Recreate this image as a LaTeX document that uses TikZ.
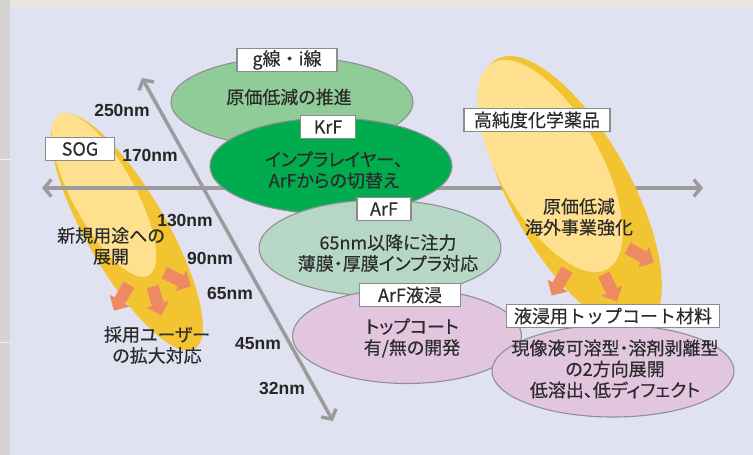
\documentclass[tikz,border=0pt]{standalone}
\usepackage{fontspec}
\setmainfont{Liberation Sans}
\newfontfamily\jp[RawFeature={+palt},FakeBold=0.35]{Noto Sans CJK JP}
\newfontfamily\jptag[FakeBold=0.35]{Noto Sans CJK JP}
\newfontfamily\nmfont{Liberation Sans}
\usetikzlibrary{shapes.geometric,shapes.arrows,arrows.meta}
\definecolor{panel}{HTML}{E1E2F1}
\definecolor{topstrip}{HTML}{E8E4E2}
\definecolor{leftstrip}{HTML}{D6D2D2}
\definecolor{axisc}{HTML}{9B9B9D}
\definecolor{edge}{HTML}{909090}
\definecolor{gI}{HTML}{90CC98}
\definecolor{krf}{HTML}{00AC4E}
\definecolor{arf}{HTML}{B6D6C6}
\definecolor{pinkc}{HTML}{E2C5DF}
\definecolor{yelout}{HTML}{F2C431}
\definecolor{yelin}{HTML}{FEE08F}
\definecolor{arrowc}{HTML}{EE8A63}
\definecolor{txt}{HTML}{2B2B2B}
\definecolor{nmtxt}{HTML}{262626}
\definecolor{tagborder}{HTML}{8C8C8C}
\begin{document}
\begin{tikzpicture}[x=1pt,y=-1pt,
  body/.style={font=\jp\fontsize{18}{21}\selectfont, text=txt, align=center, inner sep=0pt},
  tag/.style={draw=tagborder, line width=1.2pt, fill=white, font=\jptag\fontsize{18}{20}\selectfont, text=txt, inner sep=0pt, minimum height=23pt},
  nm/.style={font=\nmfont\bfseries\fontsize{17.5}{20}\selectfont, text=nmtxt, inner sep=0pt},
  blob/.style={ellipse, draw=edge, line width=1.1pt, inner sep=0pt},
  yel/.style={ellipse, inner sep=0pt},
  orarrow/.style={single arrow, fill=arrowc, inner xsep=0pt, inner ysep=6pt, minimum height=30pt, minimum width=23pt, single arrow head extend=5.5pt},
  axisline/.style={draw=axisc, line width=3.5pt, {Straight Barb[length=7pt,width=17pt]}-{Straight Barb[length=7pt,width=17pt]}},
]
\useasboundingbox (0,0) rectangle (753,455);
% background
\fill[topstrip] (0,0) rectangle (753,455);
\fill[leftstrip] (0,0) rectangle (10,455);
\draw[white!70!leftstrip, line width=1pt] (0,159) -- (10,159) (0,342) -- (10,342);
\fill[panel] (10,8) rectangle (753,455);

% SOG ellipse
\node[yel, fill=yelout, minimum width=270pt, minimum height=80pt, rotate=-60] (sogout) at (127,232) {};
\node[yel, fill=yelin, minimum width=184pt, minimum height=62pt, rotate=-61] (sogin) at (104,195) {};

% axes
\coordinate (hl) at (42,188);
\coordinate (hr) at (703,188);
\coordinate (dt) at (142,78);
\coordinate (db) at (333,421);
\draw[axisline] (hl) -- (hr);
\draw[axisline] (dt) -- (db);

% green / pink ellipses
\node[blob, fill=gI, minimum width=242pt, minimum height=90pt] (gline) at (292,102) {};
\node[blob, fill=krf, minimum width=242pt, minimum height=96pt] (krfe) at (331,166) {};
\node[blob, fill=arf, minimum width=242pt, minimum height=96pt] (arfe) at (380,248) {};
\node[blob, fill=pinkc, minimum width=229pt, minimum height=95pt] (imme) at (407,336) {};

% high purity chemicals ellipse
\node[yel, fill=yelout, minimum width=306pt, minimum height=120pt, rotate=-61] (hpout) at (571,193) {};
\node[yel, fill=yelin, minimum width=236pt, minimum height=102pt, rotate=-61] (hpin) at (550,166) {};

% orange arrows
\node[orarrow, rotate=-120] (a1) at (123,295) {};
\node[orarrow, rotate=-73] (a2) at (156,298) {};
\node[orarrow, rotate=-27] (a3) at (175,278) {};
\node[orarrow, rotate=-121] (b1) at (561,280) {};
\node[orarrow, rotate=-64] (b2) at (609,285) {};
\node[orarrow, rotate=-29] (b3) at (638,254) {};

% top coat ellipse
\node[blob, fill=pinkc, minimum width=242pt, minimum height=92pt] (tce) at (613,371) {};

% tags
\node[tag, minimum width=100pt] (tg) at (287,60) {g線・i線};
\node[tag, minimum width=55pt] (tk) at (328,127) {KrF};
\node[tag, minimum width=54pt] (ta) at (384,209) {ArF};
\node[tag, minimum width=101pt] (ti) at (410,295) {ArF液浸};
\node[tag, minimum width=213pt] (tt) at (613,316) {液浸用トップコート材料};
\node[tag, minimum width=146pt] (th) at (537,120) {高純度化学薬品};
\node[tag, minimum width=69pt] (ts) at (80,149) {SOG};

% texts
\node[body] (xg) at (289,97) {原価低減の推進};
\node[body] (xk) at (334,170) {インプラレイヤー、\\ArFからの切替え};
\node[body] (xa) at (388,253) {65nm以降に注力\\薄膜・厚膜インプラ対応};
\node[body] (xi) at (412,338) {トップコート\\有/無の開発};
\node[body] (xt) at (615,369) {現像液可溶型・溶剤剥離型\\の2方向展開\\低溶出、低ディフェクト};
\node[body] (xh) at (579,217) {原価低減\\海外事業強化};
\node[body] (xs1) at (111,246) {新規用途への\\展開};
\node[body] (xs2) at (157,345) {採用ユーザー\\の拡大対応};

% nm labels
\node[nm] (n250) at (122,110) {250nm};
\node[nm] (n170) at (150,155) {170nm};
\node[nm] (n130) at (185,220) {130nm};
\node[nm] (n90) at (210,258) {90nm};
\node[nm] (n65) at (230,293) {65nm};
\node[nm] (n45) at (258,344) {45nm};
\node[nm] (n32) at (282,388) {32nm};
\end{tikzpicture}
\end{document}
